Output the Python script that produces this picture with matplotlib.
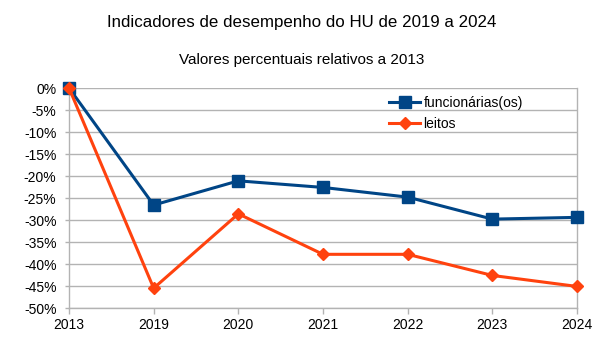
import matplotlib
matplotlib.use("Agg")
import matplotlib.pyplot as plt
from matplotlib.ticker import FuncFormatter

plt.rcParams['font.family'] = ['Liberation Sans', 'DejaVu Sans']

anos = ['2013', '2019', '2020', '2021', '2022', '2023', '2024']
funcionarios = [0.0, -26.6, -21.1, -22.6, -24.8, -29.8, -29.4]
leitos = [0.0, -45.5, -28.6, -37.8, -37.8, -42.6, -45.1]

azul = '#004586'
laranja = '#ff420e'
grade = '#b3b3b3'

fig = plt.figure(figsize=(6.05, 3.4), dpi=100)
ax = fig.add_axes([69 / 605, 1 - 308 / 340, (577 - 69) / 605, (308 - 88) / 340])

x = list(range(len(anos)))
ax.plot(x, funcionarios, color=azul, linewidth=2.2, marker='s', markersize=8,
        label='funcionárias(os)', zorder=3, clip_on=False)
ax.plot(x, leitos, color=laranja, linewidth=2.2, marker='D', markersize=6,
        label='leitos', zorder=3, clip_on=False)

ax.set_xlim(0, len(anos) - 1)
ax.set_ylim(-50, 0)
ax.set_xticks(x)
ax.set_xticklabels(anos)
ax.set_yticks(range(-50, 1, 5))
ax.yaxis.set_major_formatter(FuncFormatter(lambda v, p: f'{int(v)}%'))
ax.grid(axis='y', color=grade, linewidth=1)
ax.set_axisbelow(True)
for s in ax.spines.values():
    s.set_color(grade)
    s.set_linewidth(1)
ax.spines['top'].set_visible(False)
ax.tick_params(axis='both', colors=grade, labelcolor='black', labelsize=10,
               length=4, width=1, direction='out')
ax.tick_params(axis='y', length=3, pad=6)

ax.legend(loc='upper left', bbox_to_anchor=(312 / 508, 1.0), frameon=False,
          fontsize=10, handlelength=2.2, handletextpad=0.25,
          borderaxespad=0.2, labelspacing=0.45)

fig.text(302 / 605, 1 - 22 / 340, 'Indicadores de desempenho do HU de 2019 a 2024',
         ha='center', va='center', fontsize=12.2)
fig.text(302 / 605, 1 - 60 / 340, 'Valores percentuais relativos a 2013',
         ha='center', va='center', fontsize=11)

fig.savefig('out.png', dpi=100, facecolor='white')
